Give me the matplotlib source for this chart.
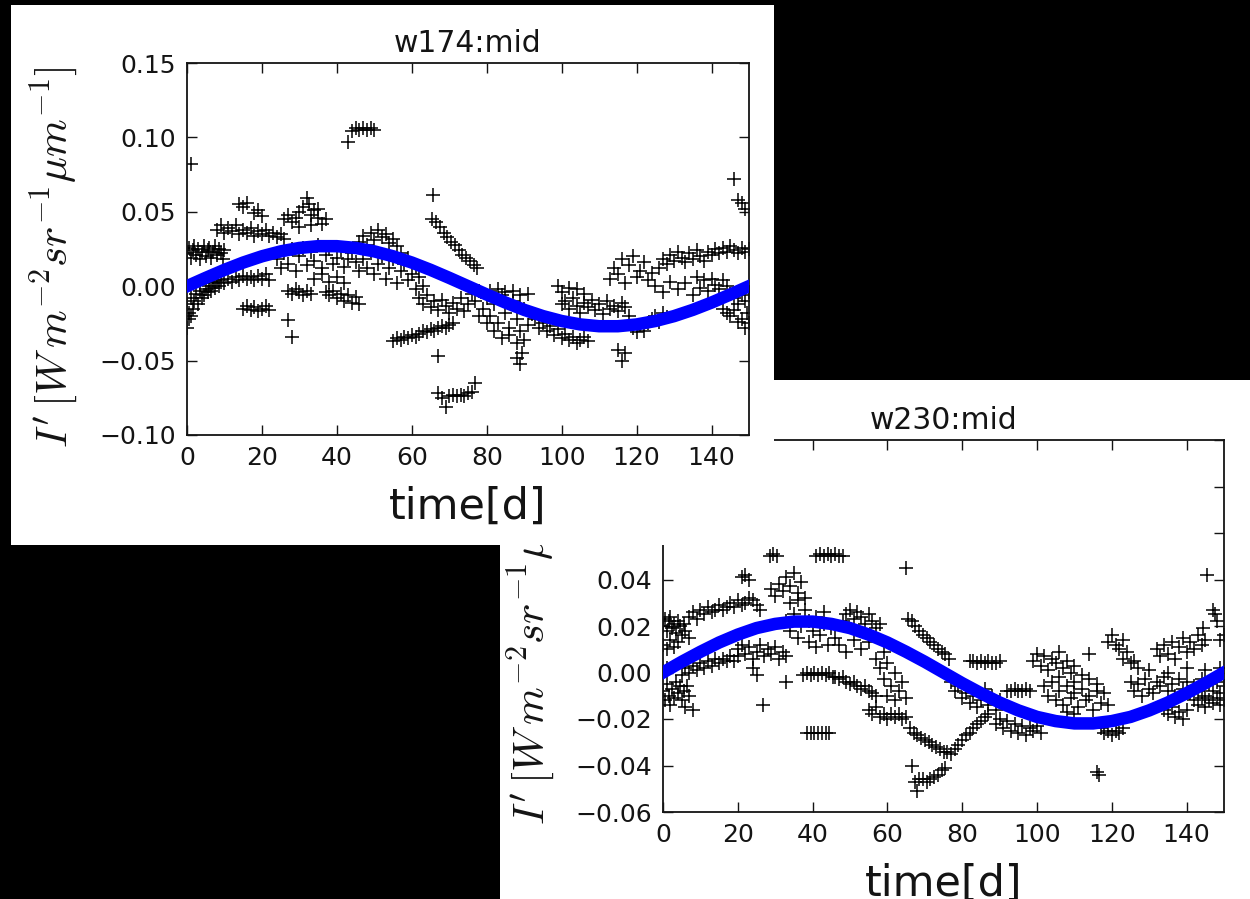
import matplotlib
matplotlib.use("Agg")
import matplotlib.pyplot as plt
from matplotlib.patches import Rectangle

plt.rcParams['mathtext.fontset'] = 'cm'
plt.rcParams['font.family'] = ['DejaVu Sans']

# ---------------- text ----------------
title1 = "w174:mid"
title2 = "w230:mid"
xlabel_text = "time[d]"
ylabel_text = r"$I'\,[W\,m^{-2}sr^{-1}\mu m^{-1}]$"

xticks = [0, 20, 40, 60, 80, 100, 120, 140]
yticks1 = [-0.10, -0.05, 0.00, 0.05, 0.10, 0.15]
yticks2 = [-0.06, -0.04, -0.02, 0.00, 0.02, 0.04, 0.06, 0.08, 0.10]
# labels of the lower panel above 0.04 are hidden behind the upper panel
yticklabels2 = ['\u22120.06', '\u22120.04', '\u22120.02', '0.00', '0.02', '0.04', '', '', '']

# ---------------- fitted curves (read every 5 days) ----------------
fit_t = [0, 5, 10, 15, 20, 25, 30, 35, 40, 45, 50, 55, 60, 65, 70, 75,
         80, 85, 90, 95, 100, 105, 110, 115, 120, 125, 130, 135, 140, 145, 150]
fit_w174 = [0.000, 0.0056, 0.0110, 0.0159, 0.0201, 0.0234, 0.0257, 0.0269, 0.0269, 0.0257, 0.0234,
            0.0201, 0.0159, 0.0110, 0.0056, 0.000, -0.0056, -0.0110, -0.0159, -0.0201, -0.0234,
            -0.0257, -0.0269, -0.0269, -0.0257, -0.0234, -0.0201, -0.0159, -0.0110, -0.0056, 0.000]
fit_w230 = [0.000, 0.0046, 0.0089, 0.0129, 0.0163, 0.0191, 0.0209, 0.0219, 0.0219, 0.0209, 0.0191,
            0.0163, 0.0129, 0.0089, 0.0046, 0.000, -0.0046, -0.0089, -0.0129, -0.0163, -0.0191,
            -0.0209, -0.0219, -0.0219, -0.0209, -0.0191, -0.0163, -0.0129, -0.0089, -0.0046, 0.000]

# ---------------- w174 observations ----------------
w174_t = [
    0, 0.5, 1, 1.5, 2, 2.5, 3, 3.5, 4, 4.5, 5, 5.5, 6, 6.5, 7, 7.5, 8, 8.5, 9, 9.5, 10,
    0, 0.5, 1, 1.5, 2, 2.5, 3, 3.5, 4, 4.5, 5, 5.5, 6, 6.5, 7, 7.5, 8, 8.5, 9, 10, 11, 12, 13, 14, 15, 16, 17, 18, 19, 20, 21, 22,
    0, 0.5, 1, 1,
    8, 9, 10, 11, 12, 13, 14, 15, 16, 17, 18, 19, 20, 21, 22, 23, 24, 25, 26,
    14, 15, 16, 18, 19, 20,
    26, 27, 28, 29, 30, 31, 32, 32.5, 33, 34, 35, 36, 37, 30, 33, 35,
    24, 25, 26, 27, 28, 29, 30, 31, 32, 33, 34, 35, 36, 37, 38, 39, 40, 41, 42, 43, 44, 45, 46,
    27, 28, 29, 30, 31, 32, 33, 37, 38, 39, 40, 41, 42, 43, 44, 45, 46,
    34, 36, 38, 40, 42,
    15, 16, 17, 18, 19, 20, 21, 22, 27, 28,
    43, 44, 45, 46, 47, 48, 49, 50,
    46, 47, 48, 49, 50, 51, 52, 53, 54, 55, 56,
    47, 48, 49, 50, 51, 52, 53, 54, 55, 56, 57, 58, 59, 60, 61, 62, 63, 57, 59, 61,
    65.7, 65.5, 66.5, 67.5, 68.5, 69.5, 70.5, 71.5, 72.5, 73.5, 74.5, 75.5, 76.5, 77.5,
    62, 63, 64, 65, 66, 67, 68, 69, 70, 71, 72, 73, 74, 75,
    55, 56, 57, 58, 59, 60, 61, 62, 63, 64, 65, 66, 67, 68, 69, 70, 71,
    67,
    67, 68, 69, 70, 71, 72, 73, 74, 75, 76, 77,
    76, 77, 78, 79, 80, 81, 82, 83, 84, 85, 86, 87, 88, 89, 90, 91, 92, 78, 80, 82, 84, 86, 88, 90,
    81, 83, 85, 87, 89, 91,
    88, 89, 89.5,
    93, 94, 95, 96, 97, 98, 99, 100, 101, 102, 103, 104, 105, 106, 107,
    100, 101, 102, 103, 104, 105, 106, 107, 108, 109, 110, 111, 112, 113, 114, 115, 116, 117, 118, 104, 106, 102, 99, 100,
    113, 114, 115, 116, 117, 118, 119, 120, 121, 122, 123, 124,
    115, 116, 117,
    119, 120, 121, 122, 123, 124, 125, 126, 127, 128,
    126, 127, 128, 129, 130, 131, 132, 133, 134, 135, 136, 137, 138, 139, 140, 141, 142, 143, 144, 145, 146, 147, 148, 149, 150,
    125, 127, 129, 131, 133, 135, 136, 137, 138, 139, 140, 141, 142, 143, 144, 145, 146, 147, 148, 149, 150,
    143, 144, 145, 146, 147, 148, 149, 150, 149.5,
    146, 147, 148, 149,
]
w174_y = [
    0.022, 0.026, 0.019, 0.024, 0.027, 0.021, 0.025, 0.018, 0.023, 0.027, 0.020, 0.024, 0.026, 0.019, 0.023, 0.027, 0.021, 0.025, 0.022, 0.018, 0.024,
    -0.012, -0.018, -0.008, -0.015, -0.010, -0.005, -0.012, -0.003, -0.008, -0.006, -0.002, -0.004, 0.000, -0.003, 0.002, -0.001, 0.003, 0.000, 0.004, 0.002, 0.005, 0.003, 0.006, 0.004, 0.007, 0.005, 0.006, 0.004, 0.007, 0.005, 0.008, 0.004,
    -0.028, -0.022, -0.020, 0.082,
    0.038, 0.041, 0.036, 0.039, 0.037, 0.041, 0.035, 0.038, 0.036, 0.039, 0.034, 0.037, 0.035, 0.038, 0.034, 0.036, 0.033, 0.035, 0.032,
    0.055, 0.053, 0.056, 0.049, 0.051, 0.047,
    0.045, 0.048, 0.043, 0.046, 0.050, 0.053, 0.059, 0.055, 0.048, 0.051, 0.046, 0.042, 0.045, 0.040, 0.041, 0.052,
    0.018, 0.012, 0.022, 0.015, 0.025, 0.010, 0.020, 0.026, 0.014, 0.023, 0.017, 0.028, 0.012, 0.021, 0.025, 0.015, 0.019, 0.024, 0.013, 0.018, 0.022, 0.016, 0.010,
    -0.003, -0.005, -0.002, -0.004, -0.006, -0.003, -0.005, -0.004, -0.006, -0.003, -0.008, -0.005, -0.010, -0.006, -0.011, -0.007, -0.012,
    0.005, 0.008, 0.003, 0.006, 0.002,
    -0.015, -0.013, -0.016, -0.014, -0.017, -0.015, -0.013, -0.016, -0.023, -0.034,
    0.097, 0.104, 0.106, 0.105, 0.106, 0.105, 0.106, 0.105,
    0.030, 0.034, 0.028, 0.036, 0.031, 0.038, 0.033, 0.035, 0.029, 0.032, 0.027,
    0.018, 0.012, 0.022, 0.008, 0.015, 0.020, 0.005, 0.012, 0.018, 0.002, 0.010, 0.015, 0.004, 0.008, -0.002, 0.006, 0.000, 0.022, 0.019, 0.013,
    0.061, 0.045, 0.043, 0.040, 0.036, 0.033, 0.030, 0.028, 0.024, 0.021, 0.019, 0.017, 0.014, 0.012,
    -0.008, -0.012, -0.006, -0.014, -0.010, -0.016, -0.009, -0.013, -0.018, -0.011, -0.015, -0.008, -0.017, -0.012,
    -0.037, -0.035, -0.036, -0.034, -0.035, -0.033, -0.034, -0.032, -0.030, -0.031, -0.029, -0.030, -0.028, -0.027, -0.028, -0.026, -0.025,
    -0.047,
    -0.072, -0.075, -0.081, -0.074, -0.073, -0.074, -0.073, -0.074, -0.072, -0.071, -0.065,
    -0.005, -0.010, -0.003, -0.015, -0.008, -0.020, -0.012, -0.025, -0.006, -0.018, -0.028, -0.010, -0.022, -0.030, -0.015, -0.026, -0.019, -0.020, -0.025, -0.030, -0.035, -0.033, -0.038, -0.036,
    -0.003, -0.002, -0.004, -0.003, -0.006, -0.005,
    -0.048, -0.052, -0.045,
    -0.022, -0.028, -0.025, -0.030, -0.027, -0.033, -0.029, -0.035, -0.032, -0.036, -0.034, -0.038, -0.036, -0.034, -0.037,
    -0.012, -0.010, -0.015, -0.008, -0.013, -0.018, -0.011, -0.014, -0.009, -0.016, -0.012, -0.019, -0.010, -0.015, -0.013, -0.017, -0.011, -0.014, -0.020, -0.002, -0.005, -0.001, 0.000, -0.004,
    0.005, 0.012, 0.008, 0.018, 0.002, 0.014, 0.020, 0.006, 0.010, 0.016, 0.004, 0.009,
    -0.043, -0.050, -0.045,
    -0.028, -0.031, -0.026, -0.030, -0.025, -0.022, -0.020, -0.024, -0.018, -0.021,
    0.012, 0.018, 0.015, 0.021, 0.017, 0.023, 0.019, 0.016, 0.022, 0.018, 0.024, 0.020, 0.017, 0.023, 0.021, 0.025, 0.022, 0.026, 0.023, 0.027, 0.024, 0.022, 0.026, 0.023, 0.025,
    0.000, -0.004, 0.003, -0.002, 0.002, -0.006, 0.006, -0.001, 0.004, -0.003, 0.005, 0.001, -0.002, 0.004, 0.000, -0.005, -0.008, -0.012, -0.006, -0.010, -0.004,
    -0.015, -0.018, -0.020, -0.016, -0.024, -0.022, -0.028, -0.025, -0.018,
    0.072, 0.058, 0.056, 0.052,
]

# ---------------- w230 observations ----------------
w230_t = [
    0, 0.5, 1, 1.5, 2, 2.5, 3, 3.5, 4, 4.5, 5, 5.5, 6, 7,
    0, 1, 2, 3, 4,
    7, 8, 9, 10, 11, 12, 13, 14, 15, 16, 17, 18, 19, 20, 21, 22, 23, 24, 25, 26,
    0, 0.5, 1, 1.5, 2, 2.5, 3, 3.5, 4, 4.5, 5, 5.5, 6, 6.5, 7, 8, 0, 1,
    5, 6, 7, 8, 9, 10, 11, 12, 13, 14, 15, 16, 17, 18, 19, 20,
    20, 21, 22, 23, 24, 25, 26, 27, 28, 29, 30, 31, 32, 33, 24, 25,
    26.7, 33,
    28.5, 29.5, 30.5, 21, 22, 23,
    41, 42, 43, 44, 45, 46, 47, 48,
    29, 30, 31, 32, 33, 34, 35, 36, 37, 38, 34, 36,
    33, 34, 35, 36, 37, 38, 39, 40, 41, 42, 43, 44, 45, 46, 39, 41, 43,
    37.5, 38.5, 39.5, 40.5, 41.5, 42.5, 43.5, 44.5, 45.5,
    38.5, 39.5, 40.5, 41.5, 42.5, 43.5, 44.5,
    46, 47, 48, 49, 50, 51, 52, 53, 54, 55, 56, 57,
    48, 49, 50, 51, 52, 53, 54, 55, 56, 57, 58,
    47, 49, 51, 53, 55, 57, 59,
    55, 56, 57, 58, 59, 60, 61, 62, 63, 64, 65,
    58, 59, 60, 61, 62, 63, 64, 65, 60, 62,
    65,
    65.5, 66.5, 67.5, 68.5, 69.5, 70.5, 71.5, 72.5, 73.5, 74.5, 75.5, 76.5,
    66, 67, 68, 69, 70, 71, 72, 73, 74, 75, 76, 77, 78, 79, 80, 81, 82, 83, 84, 85, 86, 87,
    66.5, 67.5, 68.5, 69.5, 70.5, 71.5, 72.5, 73.5, 74.5, 68, 75.5,
    82, 83, 84, 85, 86, 87, 88, 89, 90,
    77, 78, 79, 80, 81, 82, 83, 84, 85, 86, 87, 88, 89, 90,
    92, 93, 94, 95, 96, 97, 98,
    89, 90, 91, 92, 93, 94, 95, 96, 97, 98, 99, 100, 101,
    99, 100, 101, 102, 103, 104, 105, 106, 107, 108, 109, 110,
    102, 103, 104, 105, 106, 107, 108, 109, 110, 111, 112, 113, 114, 115, 116, 117, 118, 119, 106, 110, 112, 114, 116, 108, 110,
    114, 119, 120, 121, 122, 123, 124, 123, 125, 126, 127,
    117, 118, 119, 120, 121, 122, 123,
    116, 116.5,
    125, 126, 127, 128, 129, 130, 131, 132, 133, 134, 135, 136, 137, 138, 139, 140, 141, 142, 143, 144, 145, 146, 147, 148, 149, 150, 130, 135, 140, 145, 149,
    132, 133, 134, 135, 136, 137, 138, 139, 140, 141, 142, 143, 144, 145,
    134, 135, 136, 137, 138, 139, 140,
    142, 143, 144, 145, 146, 147, 148, 149, 150,
    145.5, 147, 147.5, 144.5, 148, 149, 150,
]
w230_y = [
    0.020, 0.023, 0.018, 0.022, 0.024, 0.019, 0.021, 0.017, 0.022, 0.020, 0.016, 0.021, 0.018, 0.015,
    0.012, 0.010, 0.014, 0.011, 0.013,
    0.024, 0.026, 0.023, 0.027, 0.025, 0.028, 0.026, 0.027, 0.029, 0.027, 0.028, 0.030, 0.028, 0.031, 0.029, 0.030, 0.032, 0.031, 0.029, 0.027,
    -0.008, -0.012, -0.005, -0.010, -0.014, -0.007, -0.011, -0.004, -0.009, -0.006, -0.012, -0.008, -0.015, -0.006, -0.010, -0.016, 0.000, 0.002,
    -0.001, 0.002, 0.000, 0.003, 0.001, 0.004, 0.002, 0.005, 0.003, 0.006, 0.004, 0.006, 0.005, 0.007, 0.005, 0.007,
    0.010, 0.012, 0.008, 0.011, 0.006, 0.009, 0.012, 0.007, 0.010, 0.008, 0.011, 0.006, 0.009, 0.007, 0.002, -0.001,
    -0.014, -0.004,
    0.050, 0.051, 0.050, 0.041, 0.042, 0.040,
    0.050, 0.051, 0.050, 0.051, 0.050, 0.051, 0.050, 0.050,
    0.036, 0.033, 0.038, 0.035, 0.041, 0.037, 0.043, 0.034, 0.039, 0.032, 0.030, 0.031,
    0.022, 0.018, 0.025, 0.015, 0.020, 0.027, 0.013, 0.018, 0.024, 0.016, 0.021, 0.012, 0.019, 0.015, 0.022, 0.011, 0.026,
    -0.001, 0.000, -0.001, 0.000, -0.001, 0.000, -0.001, 0.000, -0.002,
    -0.026, -0.026, -0.026, -0.026, -0.026, -0.026, -0.026,
    -0.002, -0.003, -0.002, -0.004, -0.005, -0.004, -0.006, -0.007, -0.006, -0.008, -0.009, -0.010,
    0.022, 0.025, 0.027, 0.023, 0.026, 0.024, 0.021, 0.025, 0.022, 0.019, 0.021,
    0.012, 0.009, 0.014, 0.010, 0.013, 0.006, 0.009,
    -0.016, -0.018, -0.015, -0.019, -0.018, -0.020, -0.018, -0.019, -0.018, -0.020, -0.019,
    0.002, -0.003, 0.004, -0.006, 0.000, -0.008, -0.004, -0.011, -0.010, -0.012,
    0.045,
    0.023, 0.022, 0.020, 0.018, 0.016, 0.015, 0.013, 0.012, 0.010, 0.009, 0.008, 0.006,
    -0.024, -0.026, -0.027, -0.028, -0.029, -0.030, -0.031, -0.032, -0.033, -0.034, -0.034, -0.035, -0.033, -0.031, -0.029, -0.027, -0.026, -0.024, -0.022, -0.021, -0.019, -0.018,
    -0.040, -0.047, -0.046, -0.046, -0.047, -0.046, -0.045, -0.044, -0.042, -0.051, -0.041,
    0.005, 0.005, 0.004, 0.005, 0.004, 0.005, 0.004, 0.004, 0.005,
    -0.004, -0.008, -0.006, -0.011, -0.009, -0.013, -0.010, -0.015, -0.012, -0.007, -0.014, -0.010, -0.016, -0.012,
    -0.008, -0.008, -0.007, -0.008, -0.008, -0.007, -0.008,
    -0.022, -0.020, -0.024, -0.021, -0.025, -0.022, -0.026, -0.023, -0.027, -0.024, -0.025, -0.023, -0.026,
    0.005, 0.008, 0.003, 0.007, 0.001, 0.006, 0.004, 0.009, 0.002, 0.005, 0.000, 0.003,
    -0.006, -0.010, -0.004, -0.012, -0.008, -0.014, -0.006, -0.011, -0.009, -0.015, -0.007, -0.012, -0.010, -0.016, -0.008, -0.013, -0.009, -0.014, -0.002, -0.004, -0.001, -0.003, -0.005, -0.017, -0.018,
    0.008, 0.013, 0.016, 0.012, 0.010, 0.014, 0.009, 0.006, 0.004, 0.005, 0.002,
    -0.024, -0.026, -0.025, -0.027, -0.025, -0.026, -0.024,
    -0.043, -0.044,
    -0.004, -0.008, -0.005, -0.010, -0.003, -0.007, -0.009, -0.004, -0.006, -0.002, -0.008, -0.005, -0.010, -0.003, -0.007, -0.004, -0.009, -0.006, -0.008, -0.003, -0.010, -0.005, -0.008, -0.004, -0.009, -0.006, 0.001, 0.000, 0.002, 0.001, 0.002,
    0.010, 0.007, 0.012, 0.008, 0.013, 0.006, 0.011, 0.015, 0.009, 0.013, 0.010, 0.016, 0.012, 0.014,
    -0.016, -0.018, -0.015, -0.019, -0.017, -0.020, -0.016,
    -0.012, -0.014, -0.011, -0.015, -0.012, -0.013, -0.011, -0.014, -0.012,
    0.042, 0.027, 0.025, 0.019, 0.022, 0.014, 0.016,
]

# ---------------- figure ----------------
W, H = 1250, 899
fig = plt.figure(figsize=(W / 100, H / 100), dpi=100, facecolor='black')
INK = '#141414'


def px_rect(x0, y0, x1, y1):
    return [x0 / W, (H - y1) / H, (x1 - x0) / W, (y1 - y0) / H]


def style_axes(ax, yticks, ylim, title, yticklabels=None):
    ax.set_xlim(0, 150)
    ax.set_ylim(*ylim)
    ax.set_xticks(xticks)
    ax.set_yticks(yticks)
    if yticklabels is not None:
        ax.set_yticklabels(yticklabels)
    ax.tick_params(direction='in', top=True, right=True, length=7, width=1,
                   pad=8, labelsize=18, colors=INK)
    for s in ax.spines.values():
        s.set_linewidth(1.3)
        s.set_color(INK)
    ax.set_title(title, fontsize=21.5, pad=8, color=INK)
    ax.set_xlabel(xlabel_text, fontsize=31, labelpad=11, color=INK)
    ax.set_ylabel(ylabel_text, fontsize=31, color=INK)
    ax.yaxis.set_label_coords(-0.188, 0.478)


# lower-right panel (w230) first
b = px_rect(500, 380, 1250, 899)
fig.patches.append(Rectangle((b[0], b[1]), b[2], b[3], transform=fig.transFigure,
                             facecolor='white', edgecolor='none', zorder=0.1))
ax2 = fig.add_axes(px_rect(663, 440, 1224, 812), zorder=0.2)
ax2.plot(w230_t, w230_y, linestyle='none', marker='+', color='black',
         markersize=10, markeredgewidth=1.1, zorder=2)
ax2.plot(fit_t, fit_w230, color='#0000ff', linewidth=9, zorder=3)
style_axes(ax2, yticks2, (-0.06, 0.10), title2, yticklabels2)

# upper-left panel (w174) on top
b = px_rect(11, 5, 774, 545)
fig.patches.append(Rectangle((b[0], b[1]), b[2], b[3], transform=fig.transFigure,
                             facecolor='white', edgecolor='none', zorder=0.3))
ax1 = fig.add_axes(px_rect(187, 63, 749, 435), zorder=0.4)
ax1.plot(w174_t, w174_y, linestyle='none', marker='+', color='black',
         markersize=10, markeredgewidth=1.1, zorder=2)
ax1.plot(fit_t, fit_w174, color='#0000ff', linewidth=9, zorder=3)
style_axes(ax1, yticks1, (-0.10, 0.15), title1)

fig.savefig('out.png', dpi=100, facecolor='black')
